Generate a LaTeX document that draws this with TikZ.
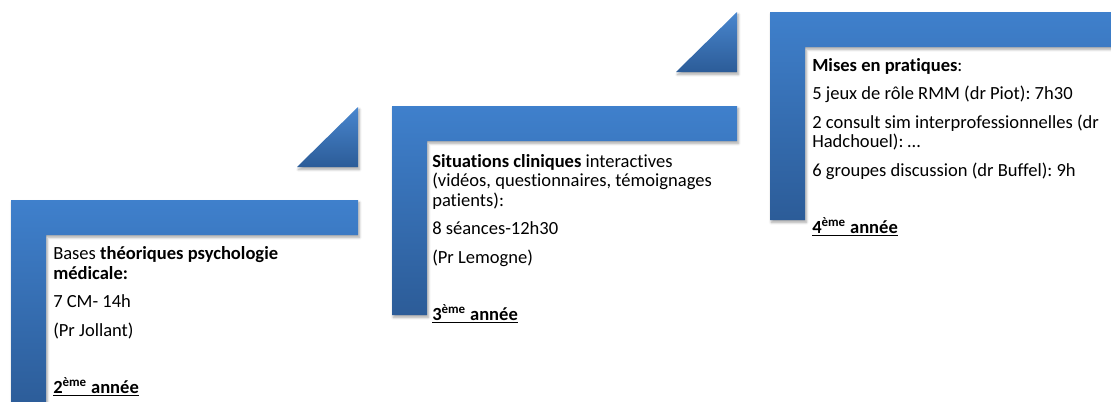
\documentclass[tikz,border=0pt]{standalone}
\usepackage{fontspec}
\setmainfont{Carlito}[Ligatures=CommonOff]
\usepackage{xcolor}
\usepackage{tikz}
\usetikzlibrary{shadows.blur}

\definecolor{steptop}{HTML}{3F80CC}
\definecolor{stepbot}{HTML}{2C5C98}
\frenchspacing

\begin{document}
\begin{tikzpicture}[x=0.75pt,y=-0.75pt]
%
\tikzstyle{stepl}=[top color=steptop,bottom color=stepbot,
  blur shadow={shadow xshift=1pt,shadow yshift=-1.8pt,shadow opacity=35,shadow blur steps=6}]
\tikzstyle{tri}=[top color=steptop!95!white,bottom color=stepbot,
  blur shadow={shadow xshift=1pt,shadow yshift=-1.8pt,shadow opacity=35,shadow blur steps=6}]
\tikzstyle{txt}=[anchor=base west,inner sep=0pt,align=left,
  font=\fontsize{13.9pt}{14.6pt}\selectfont]
%
\useasboundingbox (0,0) rectangle (1111,401);
%
% step 1 (2eme annee)
\path[stepl] (11,200) -- (358,200) -- (358,235) -- (46,235) -- (46,409) -- (11,409) -- cycle;
\path[tri] (297,167) -- (358,167) -- (358,107) -- cycle;
% step 2 (3eme annee)
\path[stepl] (392,106) -- (737,106) -- (737,141) -- (427,141) -- (427,315) -- (392,315) -- cycle;
\path[tri] (676,72) -- (737,72) -- (737,12) -- cycle;
% step 3 (4eme annee)
\path[stepl] (770,12) -- (1130,12) -- (1130,47) -- (805,47) -- (805,220) -- (770,220) -- cycle;
%
% base west = baseline of the last line (the year)
\node[txt](an2) at (53,393){Bases \textbf{théoriques psychologie}\\
  \textbf{médicale:}\\[6.8pt]
  7 CM- 14h\\[6.8pt]
  (Pr Jollant)\\[28pt]
  \underline{\textbf{2\textsuperscript{ème} année}}};
\node[txt](an3) at (432,320){\textbf{Situations cliniques} interactives\\
  (vidéos, questionnaires, témoignages\\
  patients):\\[6.8pt]
  8 séances-12h30\\[6.8pt]
  (Pr Lemogne)\\[28pt]
  \underline{\textbf{3\textsuperscript{ème} année}}};
\node[txt](an4) at (812,233){\textbf{Mises en pratiques}:\\[6.8pt]
  5 jeux de rôle RMM (dr Piot): 7h30\\[6.8pt]
  2 consult sim interprofessionnelles (dr\\
  Hadchouel): …\\[6.8pt]
  6 groupes discussion (dr Buffel): 9h\\[28pt]
  \underline{\textbf{4\textsuperscript{ème} année}}};
\end{tikzpicture}
\end{document}
